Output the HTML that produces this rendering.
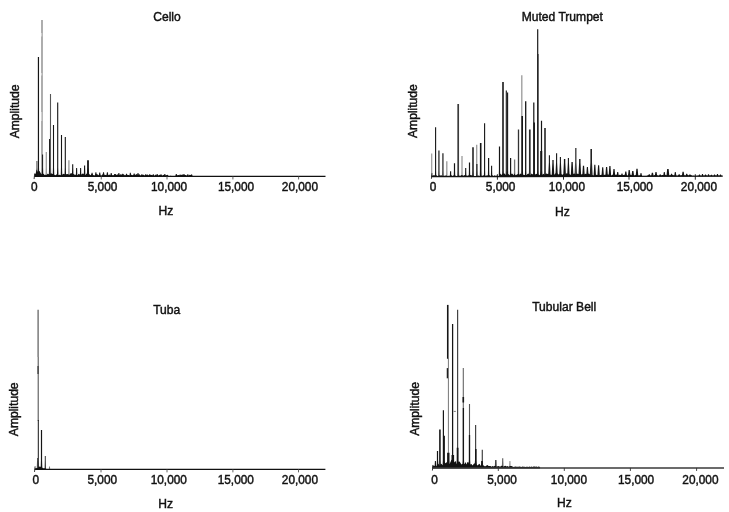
<!DOCTYPE html>
<html lang="en"><head><meta charset="utf-8"><title>Instrument spectra</title>
<style>
html,body{margin:0;padding:0;background:#fff;}
body{width:729px;height:512px;overflow:hidden;}
svg{display:block;}
text{font-family:"Liberation Sans",Arial,Helvetica,sans-serif;font-size:12.1px;fill:#111;stroke:#111;stroke-width:0.42px;}
</style></head>
<body>
<svg width="729" height="512" viewBox="0 0 729 512">
<rect width="729" height="512" fill="#fff"/>
<g id="cello">
<polygon points="36.05,176.45 36.30,167.45 36.30,161.10 37.50,161.10 37.50,167.45 37.75,176.45" fill="#666"/>
<polygon points="37.60,176.45 37.85,167.45 37.85,57.00 39.05,57.00 39.05,167.45 39.30,176.45" fill="#151515"/>
<polygon points="40.95,176.45 41.20,167.45 41.20,20.00 42.80,20.00 42.80,167.45 43.05,176.45" fill="#9a9a9a"/>
<polygon points="41.85,176.45 42.10,167.45 42.10,154.40 43.10,154.40 43.10,167.45 43.35,176.45" fill="#151515"/>
<polygon points="45.45,176.45 45.70,167.45 45.70,152.00 46.90,152.00 46.90,167.45 47.15,176.45" fill="#9a9a9a"/>
<polygon points="48.80,176.45 49.05,167.45 49.05,139.00 50.75,139.00 50.75,167.45 51.00,176.45" fill="#151515"/>
<polygon points="49.70,176.45 49.95,167.45 49.95,94.00 51.05,94.00 51.05,167.45 51.30,176.45" fill="#555"/>
<polygon points="52.70,176.45 52.95,167.45 52.95,125.00 54.05,125.00 54.05,167.45 54.30,176.45" fill="#151515"/>
<polygon points="56.90,176.45 57.15,167.45 57.15,102.50 58.25,102.50 58.25,167.45 58.50,176.45" fill="#151515"/>
<polygon points="60.70,176.45 60.95,167.45 60.95,135.00 62.05,135.00 62.05,167.45 62.30,176.45" fill="#151515"/>
<polygon points="64.50,176.45 64.75,167.45 64.75,137.00 65.85,137.00 65.85,167.45 66.10,176.45" fill="#151515"/>
<polygon points="68.00,176.45 68.25,167.45 68.25,160.20 69.55,160.20 69.55,167.45 69.80,176.45" fill="#9a9a9a"/>
<polygon points="71.90,176.45 72.15,167.45 72.15,164.20 73.25,164.20 73.25,167.45 73.50,176.45" fill="#151515"/>
<polygon points="75.85,176.45 76.10,168.00 77.10,168.00 77.35,176.45" fill="#151515"/>
<polygon points="79.85,176.45 80.10,168.00 81.10,168.00 81.35,176.45" fill="#151515"/>
<polygon points="83.80,176.45 84.05,167.45 84.05,165.50 85.15,165.50 85.15,167.45 85.40,176.45" fill="#151515"/>
<polygon points="86.85,176.45 87.10,167.45 87.10,160.20 88.90,160.20 88.90,167.45 89.15,176.45" fill="#151515"/>
<line x1="41.70" y1="33.00" x2="41.70" y2="36.50" stroke="#d8d8d8" stroke-width="1.0"/>
<line x1="41.70" y1="73.00" x2="41.70" y2="75.50" stroke="#d8d8d8" stroke-width="1.0"/>
<line x1="41.70" y1="112.00" x2="41.70" y2="121.00" stroke="#d8d8d8" stroke-width="1.0"/>
<polygon points="90.90,176.45 91.60,172.77 92.50,172.77 93.20,176.45" fill="#151515"/>
<polygon points="94.73,176.45 95.43,172.28 96.33,172.28 97.03,176.45" fill="#151515"/>
<polygon points="98.56,176.45 99.26,172.56 100.16,172.56 100.86,176.45" fill="#151515"/>
<polygon points="102.39,176.45 103.09,172.18 103.99,172.18 104.69,176.45" fill="#151515"/>
<polygon points="106.22,176.45 106.92,172.15 107.82,172.15 108.52,176.45" fill="#151515"/>
<polygon points="110.05,176.45 110.75,173.05 111.65,173.05 112.35,176.45" fill="#151515"/>
<polygon points="113.88,176.45 114.58,174.03 115.48,174.03 116.18,176.45" fill="#151515"/>
<polygon points="117.71,176.45 118.41,173.05 119.31,173.05 120.01,176.45" fill="#151515"/>
<polygon points="121.54,176.45 122.24,173.74 123.14,173.74 123.84,176.45" fill="#151515"/>
<polygon points="125.37,176.45 126.07,173.77 126.97,173.77 127.67,176.45" fill="#151515"/>
<polygon points="129.20,176.45 129.90,172.86 130.80,172.86 131.50,176.45" fill="#151515"/>
<polygon points="133.03,176.45 133.73,173.49 134.63,173.49 135.33,176.45" fill="#151515"/>
<polygon points="136.86,176.45 137.56,173.05 138.46,173.05 139.16,176.45" fill="#151515"/>
<polygon points="140.69,176.45 141.39,174.27 142.29,174.27 142.99,176.45" fill="#151515"/>
<polygon points="144.52,176.45 145.22,174.14 146.12,174.14 146.82,176.45" fill="#151515"/>
<polygon points="148.35,176.45 149.05,174.53 149.95,174.53 150.65,176.45" fill="#151515"/>
<polygon points="152.18,176.45 152.88,174.14 153.78,174.14 154.48,176.45" fill="#151515"/>
<polygon points="156.01,176.45 156.71,173.96 157.61,173.96 158.31,176.45" fill="#151515"/>
<polygon points="159.84,176.45 160.54,174.23 161.44,174.23 162.14,176.45" fill="#151515"/>
<polygon points="163.67,176.45 164.37,174.06 165.27,174.06 165.97,176.45" fill="#151515"/>
<polygon points="175.16,176.45 175.86,174.11 176.76,174.11 177.46,176.45" fill="#151515"/>
<polygon points="178.99,176.45 179.69,174.60 180.59,174.60 181.29,176.45" fill="#151515"/>
<polygon points="182.82,176.45 183.52,174.04 184.42,174.04 185.12,176.45" fill="#151515"/>
<polygon points="186.65,176.45 187.35,174.18 188.25,174.18 188.95,176.45" fill="#151515"/>
<polygon points="190.48,176.45 191.18,174.41 192.08,174.41 192.78,176.45" fill="#151515"/>
<path d="M34.60 176.45 L34.60 174.08 L35.60 173.84 L36.60 169.59 L37.60 171.65 L38.60 171.46 L39.60 171.11 L40.60 172.92 L41.60 174.28 L42.60 174.05 L43.60 173.73 L44.60 175.10 L45.60 174.69 L46.60 175.10 L47.60 173.70 L48.60 173.93 L49.60 175.20 L50.60 173.36 L51.60 173.40 L52.60 174.00 L53.60 174.08 L54.60 174.97 L55.60 175.25 L56.60 174.25 L57.60 175.16 L58.60 174.91 L59.60 174.81 L60.60 175.22 L61.60 174.38 L62.60 174.42 L63.60 173.64 L64.60 174.27 L65.60 174.03 L66.60 174.31 L67.60 173.99 L68.60 174.39 L69.60 174.74 L70.60 173.33 L71.60 173.34 L72.60 173.64 L73.60 173.90 L74.60 174.67 L75.60 174.83 L76.60 174.72 L77.60 175.14 L78.60 173.79 L79.60 174.50 L80.60 173.63 L81.60 174.53 L82.60 173.41 L83.60 173.63 L84.60 175.28 L85.60 174.87 L86.60 173.50 L87.60 174.36 L88.60 173.37 L89.60 174.51 L90.60 175.14 L91.60 174.05 L92.60 174.38 L93.60 175.15 L94.60 175.42 L95.60 175.05 L96.60 174.10 L97.60 174.41 L98.60 175.37 L99.60 175.18 L100.60 175.40 L101.60 175.46 L102.60 174.35 L103.60 175.28 L104.60 174.71 L105.60 174.88 L106.60 175.26 L107.60 174.45 L108.60 175.35 L109.60 174.58 L110.60 175.38 L111.60 174.92 L112.60 175.23 L113.60 175.15 L114.60 174.09 L115.60 174.34 L116.60 175.09 L117.60 174.22 L118.60 175.23 L119.60 174.96 L120.60 174.27 L121.60 174.59 L122.60 175.40 L123.60 174.07 L124.60 175.23 L125.60 175.16 L126.60 174.39 L127.60 175.06 L128.60 175.11 L129.60 175.44 L130.60 175.41 L131.60 174.68 L132.60 175.19 L133.60 174.65 L134.60 174.99 L135.60 174.87 L136.60 174.11 L137.60 174.82 L138.60 174.69 L139.60 174.25 L140.60 175.51 L141.60 175.55 L142.60 174.64 L143.60 174.75 L144.60 175.43 L145.60 175.50 L146.60 174.84 L147.60 174.60 L148.60 175.49 L149.60 174.59 L150.60 174.67 L151.60 175.01 L152.60 175.22 L153.60 175.61 L154.60 175.68 L155.60 174.57 L156.60 175.44 L157.60 174.88 L158.60 175.42 L159.60 174.74 L160.60 175.01 L161.60 175.38 L162.60 175.52 L163.60 174.87 L164.60 175.65 L165.60 175.46 L166.60 175.06 L167.60 174.71 L168.60 175.90 L169.60 176.05 L170.60 175.77 L171.60 176.09 L172.60 176.17 L173.60 176.06 L174.60 175.98 L175.60 176.15 L176.60 175.52 L177.60 175.29 L178.60 175.04 L179.60 175.57 L180.60 175.30 L181.60 174.66 L182.60 174.55 L183.60 174.94 L184.60 174.90 L185.60 175.03 L186.60 175.56 L187.60 175.69 L188.60 175.71 L189.60 174.64 L190.60 174.89 L191.60 174.57 L191.60 176.45 Z" fill="#111"/>
<line x1="34.40" y1="176.45" x2="325.50" y2="176.45" stroke="#111" stroke-width="1.3"/>
<line x1="34.70" y1="173.45" x2="34.10" y2="179.05" stroke="#222" stroke-width="0.9"/>
<line x1="101.25" y1="176.45" x2="101.25" y2="179.45" stroke="#555" stroke-width="0.9"/>
<line x1="167.00" y1="176.45" x2="167.00" y2="179.45" stroke="#555" stroke-width="0.9"/>
<line x1="232.90" y1="176.45" x2="232.90" y2="179.45" stroke="#555" stroke-width="0.9"/>
<line x1="298.60" y1="176.45" x2="298.60" y2="179.45" stroke="#555" stroke-width="0.9"/>
<text transform="translate(167.00 21.10) scale(1 1.07)" text-anchor="middle">Cello</text>
<text transform="translate(19.10 111.40) rotate(-90) scale(1 1.07)" text-anchor="middle">Amplitude</text>
<text transform="translate(165.80 214.90) scale(1 1.07)" text-anchor="middle">Hz</text>
<text transform="translate(34.20 191.40) scale(1 1.020)" text-anchor="middle" style="font-size:11.85px">0</text>
<text transform="translate(102.50 191.40) scale(1 1.020)" text-anchor="middle" style="font-size:11.85px">5,000</text>
<text transform="translate(169.10 191.40) scale(1 1.020)" text-anchor="middle" style="font-size:11.85px">10,000</text>
<text transform="translate(236.00 191.40) scale(1 1.020)" text-anchor="middle" style="font-size:11.85px">15,000</text>
<text transform="translate(299.90 191.40) scale(1 1.020)" text-anchor="middle" style="font-size:11.85px">20,000</text>
</g>
<g id="trumpet">
<polygon points="430.95,176.70 431.10,170.70 431.10,153.60 432.30,153.60 432.30,170.70 432.45,176.70" fill="#9a9a9a"/>
<polygon points="434.90,176.69 435.05,170.69 435.05,127.20 436.15,127.20 436.15,170.69 436.30,176.69" fill="#151515"/>
<polygon points="437.95,176.69 438.10,170.69 438.10,150.40 439.70,150.40 439.70,170.69 439.85,176.69" fill="#555"/>
<polygon points="441.95,176.68 442.10,170.68 442.10,153.20 443.70,153.20 443.70,170.68 443.85,176.68" fill="#555"/>
<polygon points="446.00,176.67 446.15,170.67 446.15,161.20 447.45,161.20 447.45,170.67 447.60,176.67" fill="#9a9a9a"/>
<polygon points="449.90,176.67 450.05,171.30 451.15,171.30 451.30,176.67" fill="#151515"/>
<polygon points="453.75,176.66 453.90,170.66 453.90,163.30 455.10,163.30 455.10,170.66 455.25,176.66" fill="#151515"/>
<polygon points="457.20,176.65 457.35,170.65 457.35,104.00 459.05,104.00 459.05,170.65 459.20,176.65" fill="#3a3a3a"/>
<polygon points="461.20,176.65 461.35,170.65 461.35,156.00 462.65,156.00 462.65,170.65 462.80,176.65" fill="#9a9a9a"/>
<polygon points="465.00,176.64 465.15,170.64 465.15,168.00 466.25,168.00 466.25,170.64 466.40,176.64" fill="#151515"/>
<polygon points="468.75,176.63 468.90,170.63 468.90,162.50 470.10,162.50 470.10,170.63 470.25,176.63" fill="#151515"/>
<polygon points="472.00,176.63 472.15,170.63 472.15,147.20 473.85,147.20 473.85,170.63 474.00,176.63" fill="#333"/>
<polygon points="475.90,176.62 476.05,170.62 476.05,144.80 477.35,144.80 477.35,170.62 477.50,176.62" fill="#9a9a9a"/>
<polygon points="476.20,176.62 476.35,170.62 476.35,164.00 477.45,164.00 477.45,170.62 477.60,176.62" fill="#151515"/>
<polygon points="479.75,176.62 479.90,170.62 479.90,142.90 481.50,142.90 481.50,170.62 481.65,176.62" fill="#151515"/>
<polygon points="483.90,176.61 484.05,170.61 484.05,123.20 485.15,123.20 485.15,170.61 485.30,176.61" fill="#151515"/>
<polygon points="487.85,176.60 488.00,170.60 488.00,158.00 489.20,158.00 489.20,170.60 489.35,176.60" fill="#151515"/>
<polygon points="490.90,176.60 491.05,170.60 491.05,165.70 492.15,165.70 492.15,170.60 492.30,176.60" fill="#151515"/>
<polygon points="498.75,176.58 498.90,170.58 498.90,146.40 500.10,146.40 500.10,170.58 500.25,176.58" fill="#151515"/>
<polygon points="501.95,176.58 502.10,170.58 502.10,82.00 503.90,82.00 503.90,170.58 504.05,176.58" fill="#333"/>
<polygon points="505.60,176.57 505.75,170.57 505.75,90.50 506.85,90.50 506.85,170.57 507.00,176.57" fill="#151515"/>
<polygon points="506.90,176.57 507.05,170.57 507.05,92.50 508.15,92.50 508.15,170.57 508.30,176.57" fill="#151515"/>
<polygon points="509.85,176.56 510.00,170.56 510.00,158.00 511.20,158.00 511.20,170.56 511.35,176.56" fill="#151515"/>
<polygon points="513.80,176.56 513.95,170.56 513.95,159.60 515.25,159.60 515.25,170.56 515.40,176.56" fill="#777"/>
<polygon points="517.70,176.55 517.85,170.55 517.85,129.60 519.15,129.60 519.15,170.55 519.30,176.55" fill="#333"/>
<polygon points="521.00,176.54 521.15,170.54 521.15,75.30 522.45,75.30 522.45,170.54 522.60,176.54" fill="#9a9a9a"/>
<polygon points="521.25,176.54 521.40,170.54 521.40,116.00 523.00,116.00 523.00,170.54 523.15,176.54" fill="#151515"/>
<polygon points="524.90,176.54 525.05,170.54 525.05,101.30 526.35,101.30 526.35,170.54 526.50,176.54" fill="#151515"/>
<polygon points="528.80,176.53 528.95,170.53 528.95,129.60 530.65,129.60 530.65,170.53 530.80,176.53" fill="#2a2a2a"/>
<polygon points="533.05,176.52 533.20,170.52 533.20,102.40 534.40,102.40 534.40,170.52 534.55,176.52" fill="#151515"/>
<polygon points="533.30,176.52 533.45,170.52 533.45,122.40 534.95,122.40 534.95,170.52 535.10,176.52" fill="#151515"/>
<polygon points="536.98,176.52 537.12,170.52 537.12,29.30 538.28,29.30 538.28,170.52 538.43,176.52" fill="#151515"/>
<polygon points="537.55,176.52 537.70,170.52 537.70,54.00 538.50,54.00 538.50,170.52 538.65,176.52" fill="#151515"/>
<polygon points="540.75,176.51 540.90,170.51 540.90,120.80 542.10,120.80 542.10,170.51 542.25,176.51" fill="#151515"/>
<polygon points="540.05,176.51 540.20,170.51 540.20,151.00 542.20,151.00 542.20,170.51 542.35,176.51" fill="#151515"/>
<polygon points="544.00,176.50 544.15,170.50 544.15,128.00 545.85,128.00 545.85,170.50 546.00,176.50" fill="#333"/>
<polygon points="548.15,176.50 548.85,162.50 548.85,155.30 549.95,155.30 549.95,162.50 550.65,176.50" fill="#151515"/>
<polygon points="551.65,176.49 552.35,162.49 552.35,160.00 553.65,160.00 553.65,162.49 554.35,176.49" fill="#151515"/>
<polygon points="555.35,176.49 556.05,162.49 556.05,153.20 557.15,153.20 557.15,162.49 557.85,176.49" fill="#151515"/>
<polygon points="559.15,176.48 559.85,162.48 559.85,156.90 560.95,156.90 560.95,162.48 561.65,176.48" fill="#151515"/>
<polygon points="563.20,176.47 563.90,162.47 563.90,159.00 565.30,159.00 565.30,162.47 566.00,176.47" fill="#151515"/>
<polygon points="567.15,176.46 567.85,162.46 567.85,158.00 568.95,158.00 568.95,162.46 569.65,176.46" fill="#151515"/>
<polygon points="570.75,176.46 571.45,162.46 571.45,162.10 572.75,162.10 572.75,162.46 573.45,176.46" fill="#151515"/>
<polygon points="574.40,176.45 575.10,162.45 575.10,148.00 576.50,148.00 576.50,162.45 577.20,176.45" fill="#444"/>
<polygon points="578.40,176.45 579.10,162.45 579.10,159.00 580.50,159.00 580.50,162.45 581.20,176.45" fill="#151515"/>
<polygon points="582.20,176.44 582.90,165.94 582.90,165.70 584.10,165.70 584.10,165.94 584.80,176.44" fill="#151515"/>
<polygon points="586.15,176.43 586.85,167.23 586.85,167.00 587.95,167.00 587.95,167.23 588.65,176.43" fill="#151515"/>
<polygon points="589.70,176.43 590.40,162.43 590.40,149.00 592.00,149.00 592.00,162.43 592.70,176.43" fill="#222"/>
<polygon points="593.55,176.42 594.25,164.92 594.25,164.70 595.35,164.70 595.35,164.92 596.05,176.42" fill="#151515"/>
<polygon points="597.35,176.41 598.05,165.41 598.05,165.20 599.15,165.20 599.15,165.41 599.85,176.41" fill="#151515"/>
<polygon points="601.45,176.41 602.15,167.51 602.15,167.30 603.25,167.30 603.25,167.51 603.95,176.41" fill="#151515"/>
<polygon points="605.30,176.40 606.00,167.20 606.00,167.00 607.20,167.00 607.20,167.20 607.90,176.40" fill="#151515"/>
<polygon points="608.60,176.39 609.30,166.19 609.30,166.00 610.50,166.00 610.50,166.19 611.20,176.39" fill="#151515"/>
<polygon points="612.70,176.39 613.40,169.19 613.40,169.00 614.60,169.00 614.60,169.19 615.30,176.39" fill="#151515"/>
<polygon points="616.50,176.38 617.20,172.08 617.20,171.90 618.20,171.90 618.20,172.08 618.90,176.38" fill="#151515"/>
<polygon points="620.80,176.37 621.50,173.77 621.50,173.60 622.50,173.60 622.50,173.77 623.20,176.37" fill="#151515"/>
<polygon points="624.55,176.37 625.25,171.57 625.25,171.40 626.35,171.40 626.35,171.57 627.05,176.37" fill="#151515"/>
<polygon points="627.90,176.36 628.60,170.16 628.60,170.00 629.80,170.00 629.80,170.16 630.50,176.36" fill="#151515"/>
<polygon points="631.45,176.35 632.15,171.05 632.15,170.90 633.45,170.90 633.45,171.05 634.15,176.35" fill="#151515"/>
<polygon points="635.65,176.35 636.35,168.95 636.35,168.80 637.65,168.80 637.65,168.95 638.35,176.35" fill="#151515"/>
<polygon points="639.85,176.34 640.55,173.24 640.55,173.10 641.45,173.10 641.45,173.24 642.15,176.34" fill="#151515"/>
<polygon points="648.10,176.33 648.80,174.33 648.80,174.20 649.80,174.20 649.80,174.33 650.50,176.33" fill="#151515"/>
<polygon points="651.10,176.32 651.80,172.82 651.80,172.70 653.00,172.70 653.00,172.82 653.70,176.32" fill="#151515"/>
<polygon points="654.70,176.31 655.40,172.21 655.40,172.10 656.60,172.10 656.60,172.21 657.30,176.31" fill="#151515"/>
<polygon points="659.05,176.31 659.75,174.41 659.75,174.30 660.65,174.30 660.65,174.41 661.35,176.31" fill="#151515"/>
<polygon points="663.10,176.30 663.80,172.20 663.80,172.10 664.80,172.10 664.80,172.20 665.50,176.30" fill="#151515"/>
<polygon points="666.45,176.29 667.15,169.09 667.15,169.00 668.65,169.00 668.65,169.09 669.35,176.29" fill="#151515"/>
<polygon points="670.30,176.29 671.00,173.89 671.00,173.80 672.00,173.80 672.00,173.89 672.70,176.29" fill="#151515"/>
<polygon points="674.15,176.28 674.85,171.98 674.85,171.90 675.75,171.90 675.75,171.98 676.45,176.28" fill="#151515"/>
<polygon points="678.00,176.27 678.70,174.27 678.70,174.20 679.70,174.20 679.70,174.27 680.40,176.27" fill="#151515"/>
<polygon points="681.80,176.27 682.50,171.77 682.50,171.70 683.70,171.70 683.70,171.77 684.40,176.27" fill="#151515"/>
<polygon points="685.50,176.26 686.20,173.76 686.20,173.70 687.20,173.70 687.20,173.76 687.90,176.26" fill="#151515"/>
<polygon points="688.80,176.26 689.50,174.46 689.50,174.40 690.50,174.40 690.50,174.46 691.20,176.26" fill="#151515"/>
<polygon points="698.45,176.20 699.05,174.54 699.95,174.54 700.55,176.20" fill="#151515"/>
<polygon points="701.45,176.20 702.05,174.03 702.95,174.03 703.55,176.20" fill="#151515"/>
<polygon points="704.45,176.20 705.05,174.61 705.95,174.61 706.55,176.20" fill="#151515"/>
<polygon points="707.45,176.20 708.05,174.21 708.95,174.21 709.55,176.20" fill="#151515"/>
<polygon points="710.45,176.20 711.05,174.64 711.95,174.64 712.55,176.20" fill="#151515"/>
<polygon points="713.45,176.20 714.05,174.53 714.95,174.53 715.55,176.20" fill="#151515"/>
<polygon points="716.45,176.20 717.05,174.00 717.95,174.00 718.55,176.20" fill="#151515"/>
<polygon points="719.45,176.20 720.05,174.55 720.95,174.55 721.55,176.20" fill="#151515"/>
<path d="M431.50 176.70 L431.50 175.51 L432.50 175.39 L433.50 175.34 L434.50 175.19 L435.50 175.39 L436.50 175.21 L437.50 176.08 L438.50 175.65 L439.50 175.18 L440.50 175.47 L441.50 175.22 L442.50 175.99 L443.50 175.64 L444.50 175.85 L445.50 175.56 L446.50 175.53 L447.50 176.07 L448.50 175.87 L449.50 175.81 L450.50 175.19 L451.50 175.33 L452.50 175.92 L453.50 175.30 L454.50 175.94 L455.50 175.47 L456.50 175.95 L457.50 176.07 L458.50 175.22 L459.50 175.86 L460.50 175.86 L461.50 175.11 L462.50 175.21 L463.50 175.78 L464.50 175.12 L465.50 175.53 L466.50 175.39 L467.50 175.85 L468.50 175.13 L469.50 175.38 L470.50 175.11 L471.50 175.17 L472.50 175.75 L473.50 175.69 L474.50 175.88 L475.50 175.90 L476.50 175.97 L477.50 175.74 L478.50 175.45 L479.50 176.03 L480.50 175.37 L481.50 175.70 L482.50 175.73 L483.50 175.23 L484.50 175.56 L485.50 175.71 L486.50 175.55 L487.50 175.33 L488.50 175.96 L489.50 175.06 L490.50 175.99 L491.50 175.28 L492.50 175.19 L493.50 175.99 L494.50 175.24 L495.50 175.65 L496.50 175.44 L497.50 175.99 L498.50 175.95 L499.50 175.82 L500.50 173.55 L501.50 175.03 L502.50 173.93 L503.50 173.59 L504.50 173.57 L505.50 174.73 L506.50 174.71 L507.50 174.38 L508.50 173.89 L509.50 175.19 L510.50 173.93 L511.50 173.84 L512.50 173.71 L513.50 175.32 L514.50 173.54 L515.50 175.21 L516.50 174.72 L517.50 174.19 L518.50 173.59 L519.50 174.72 L520.50 173.57 L521.50 174.31 L522.50 174.76 L523.50 174.75 L524.50 175.02 L525.50 175.22 L526.50 175.08 L527.50 174.02 L528.50 173.42 L529.50 175.05 L530.50 175.27 L531.50 173.43 L532.50 174.32 L533.50 174.56 L534.50 174.89 L535.50 174.19 L536.50 173.74 L537.50 174.46 L538.50 174.52 L539.50 175.24 L540.50 173.56 L541.50 175.28 L542.50 174.38 L543.50 173.70 L544.50 175.08 L545.50 173.91 L546.50 173.48 L547.50 174.10 L548.50 173.79 L549.50 175.12 L550.50 174.48 L551.50 175.03 L552.50 173.67 L553.50 174.75 L554.50 174.44 L555.50 173.37 L556.50 173.65 L557.50 173.41 L558.50 174.43 L559.50 174.36 L560.50 173.89 L561.50 174.37 L562.50 174.74 L563.50 174.52 L564.50 175.02 L565.50 174.56 L566.50 173.37 L567.50 173.42 L568.50 174.07 L569.50 174.32 L570.50 174.63 L571.50 175.12 L572.50 174.76 L573.50 173.76 L574.50 173.59 L575.50 174.58 L576.50 173.75 L577.50 173.77 L578.50 173.92 L579.50 173.98 L580.50 173.79 L581.50 174.56 L582.50 173.90 L583.50 174.72 L584.50 174.32 L585.50 173.76 L586.50 173.92 L587.50 174.69 L588.50 173.42 L589.50 173.99 L590.50 175.01 L591.50 175.69 L592.50 175.05 L593.50 175.40 L594.50 174.89 L595.50 175.14 L596.50 174.72 L597.50 174.92 L598.50 174.74 L599.50 175.27 L600.50 174.92 L601.50 174.80 L602.50 174.69 L603.50 175.26 L604.50 174.67 L605.50 174.64 L606.50 174.85 L607.50 174.51 L608.50 174.53 L609.50 175.05 L610.50 175.04 L611.50 175.47 L612.50 174.67 L613.50 174.54 L614.50 175.09 L615.50 174.83 L616.50 174.80 L617.50 174.78 L618.50 175.45 L619.50 174.72 L620.50 174.96 L621.50 174.85 L622.50 175.15 L623.50 174.90 L624.50 174.72 L625.50 174.88 L626.50 174.78 L627.50 175.61 L628.50 175.45 L629.50 175.11 L630.50 174.86 L631.50 175.37 L632.50 174.81 L633.50 174.88 L634.50 175.58 L635.50 175.06 L636.50 175.36 L637.50 175.56 L638.50 175.46 L639.50 175.24 L640.50 175.64 L641.50 175.63 L642.50 176.15 L643.50 176.02 L644.50 176.04 L645.50 175.97 L646.50 175.97 L647.50 175.57 L648.50 174.97 L649.50 175.78 L650.50 175.42 L651.50 175.53 L652.50 175.41 L653.50 175.67 L654.50 175.03 L655.50 175.44 L656.50 175.74 L657.50 175.22 L658.50 175.68 L659.50 175.28 L660.50 175.46 L661.50 175.24 L662.50 174.90 L663.50 175.02 L664.50 175.38 L665.50 175.03 L666.50 175.18 L667.50 175.42 L668.50 175.62 L669.50 175.21 L670.50 175.24 L671.50 174.89 L672.50 174.87 L673.50 175.20 L674.50 175.43 L675.50 174.94 L676.50 175.74 L677.50 175.64 L678.50 175.23 L679.50 175.18 L680.50 175.61 L681.50 175.16 L682.50 174.93 L683.50 175.39 L684.50 175.34 L685.50 175.52 L686.50 175.46 L687.50 174.84 L688.50 175.38 L689.50 174.85 L690.50 174.89 L691.50 175.18 L692.50 175.99 L693.50 175.78 L694.50 175.92 L695.50 175.94 L696.50 175.97 L697.50 175.77 L698.50 175.75 L699.50 175.84 L700.50 175.75 L701.50 175.91 L702.50 175.68 L703.50 175.76 L704.50 175.83 L705.50 175.61 L706.50 175.59 L707.50 175.95 L708.50 175.71 L709.50 175.83 L710.50 175.53 L711.50 175.60 L712.50 175.84 L713.50 175.83 L714.50 175.87 L715.50 175.50 L716.50 175.81 L717.50 175.66 L718.50 175.72 L719.50 175.64 L720.50 175.66 L721.50 175.60 L721.50 176.20 Z" fill="#111"/>
<line x1="431.50" y1="176.70" x2="722.80" y2="176.20" stroke="#111" stroke-width="1.2"/>
<line x1="432.00" y1="173.20" x2="431.40" y2="178.80" stroke="#222" stroke-width="0.9"/>
<line x1="497.40" y1="174.20" x2="497.40" y2="179.70" stroke="#111" stroke-width="0.9"/>
<line x1="563.50" y1="174.20" x2="563.50" y2="179.70" stroke="#111" stroke-width="0.9"/>
<line x1="629.00" y1="174.20" x2="629.00" y2="179.70" stroke="#111" stroke-width="0.9"/>
<line x1="695.30" y1="174.20" x2="695.30" y2="179.70" stroke="#111" stroke-width="0.9"/>
<text transform="translate(562.30 20.60) scale(1 1.07)" text-anchor="middle">Muted Trumpet</text>
<text transform="translate(417.30 111.10) rotate(-90) scale(1 1.07)" text-anchor="middle">Amplitude</text>
<text transform="translate(562.30 216.00) scale(1 1.07)" text-anchor="middle">Hz</text>
<text transform="translate(433.00 190.90) scale(1 1.020)" text-anchor="middle" style="font-size:11.85px">0</text>
<text transform="translate(500.60 190.90) scale(1 1.020)" text-anchor="middle" style="font-size:11.85px">5,000</text>
<text transform="translate(566.90 190.90) scale(1 1.020)" text-anchor="middle" style="font-size:11.85px">10,000</text>
<text transform="translate(634.80 190.90) scale(1 1.020)" text-anchor="middle" style="font-size:11.85px">15,000</text>
<text transform="translate(698.90 190.90) scale(1 1.020)" text-anchor="middle" style="font-size:11.85px">20,000</text>
</g>
<g id="tuba">
<line x1="38.10" y1="309.80" x2="38.10" y2="357.00" stroke="#666" stroke-width="1.3"/>
<line x1="38.20" y1="357.00" x2="38.20" y2="421.00" stroke="#444" stroke-width="1.0"/>
<line x1="38.00" y1="366.00" x2="38.00" y2="374.00" stroke="#222" stroke-width="1.0"/>
<polygon points="37.65,469.35 37.80,460.35 37.80,420.00 38.80,420.00 38.80,460.35 38.95,469.35" fill="#151515"/>
<polygon points="36.75,469.35 37.05,460.35 37.05,458.00 37.95,458.00 37.95,460.35 38.25,469.35" fill="#444"/>
<polygon points="40.65,469.35 40.90,460.35 40.90,430.00 42.10,430.00 42.10,460.35 42.35,469.35" fill="#151515"/>
<polygon points="44.60,469.35 44.80,460.35 44.80,456.00 45.80,456.00 45.80,460.35 46.00,469.35" fill="#333"/>
<polygon points="48.85,469.35 49.05,466.40 49.95,466.40 50.15,469.35" fill="#777"/>
<path d="M35.00 469.35 L35.00 468.18 L36.00 468.19 L37.00 468.07 L38.00 468.01 L39.00 466.55 L40.00 466.74 L41.00 466.87 L42.00 467.58 L43.00 468.26 L44.00 468.26 L45.00 468.29 L46.00 468.67 L47.00 469.35 L47.00 469.35 Z" fill="#111"/>
<line x1="34.60" y1="469.35" x2="325.40" y2="469.35" stroke="#111" stroke-width="1.3"/>
<line x1="35.10" y1="466.35" x2="34.50" y2="471.95" stroke="#222" stroke-width="0.9"/>
<line x1="101.00" y1="469.35" x2="101.00" y2="472.35" stroke="#555" stroke-width="0.9"/>
<line x1="167.00" y1="469.35" x2="167.00" y2="472.35" stroke="#555" stroke-width="0.9"/>
<line x1="232.90" y1="469.35" x2="232.90" y2="472.35" stroke="#555" stroke-width="0.9"/>
<line x1="298.50" y1="469.35" x2="298.50" y2="472.35" stroke="#555" stroke-width="0.9"/>
<text transform="translate(166.70 314.20) scale(1 1.07)" text-anchor="middle">Tuba</text>
<text transform="translate(18.30 409.30) rotate(-90) scale(1 1.07)" text-anchor="middle">Amplitude</text>
<text transform="translate(165.60 507.60) scale(1 1.07)" text-anchor="middle">Hz</text>
<text transform="translate(35.80 483.80) scale(1 1.020)" text-anchor="middle" style="font-size:11.85px">0</text>
<text transform="translate(102.30 483.80) scale(1 1.020)" text-anchor="middle" style="font-size:11.85px">5,000</text>
<text transform="translate(168.80 483.80) scale(1 1.020)" text-anchor="middle" style="font-size:11.85px">10,000</text>
<text transform="translate(235.80 483.80) scale(1 1.020)" text-anchor="middle" style="font-size:11.85px">15,000</text>
<text transform="translate(299.90 483.80) scale(1 1.020)" text-anchor="middle" style="font-size:11.85px">20,000</text>
</g>
<g id="bell">
<polygon points="434.60,467.95 434.90,461.00 435.90,461.00 436.20,467.95" fill="#151515"/>
<polygon points="436.60,467.95 436.90,459.95 436.90,451.00 438.10,451.00 438.10,459.95 438.40,467.95" fill="#151515"/>
<polygon points="438.70,467.95 439.00,459.95 439.00,429.40 440.80,429.40 440.80,459.95 441.10,467.95" fill="#333"/>
<polygon points="442.50,467.95 442.80,459.95 442.80,410.20 444.00,410.20 444.00,459.95 444.30,467.95" fill="#151515"/>
<polygon points="443.20,467.95 443.50,459.95 443.50,435.80 444.90,435.80 444.90,459.95 445.20,467.95" fill="#151515"/>
<line x1="447.75" y1="304.90" x2="447.75" y2="358.80" stroke="#151515" stroke-width="1.6"/>
<line x1="447.50" y1="368.10" x2="447.50" y2="378.30" stroke="#151515" stroke-width="1.5"/>
<polygon points="447.60,467.95 447.90,459.95 447.90,358.00 448.90,358.00 448.90,459.95 449.20,467.95" fill="#777"/>
<polygon points="451.68,467.95 451.98,459.95 451.98,324.10 453.23,324.10 453.23,459.95 453.53,467.95" fill="#151515"/>
<polygon points="456.70,467.95 457.00,459.95 457.00,309.70 458.20,309.70 458.20,459.95 458.50,467.95" fill="#444"/>
<polygon points="456.40,467.95 456.70,459.95 456.70,447.80 458.50,447.80 458.50,459.95 458.80,467.95" fill="#151515"/>
<polygon points="462.45,467.95 462.75,459.95 462.75,367.90 463.85,367.90 463.85,459.95 464.15,467.95" fill="#666"/>
<line x1="463.30" y1="397.00" x2="463.30" y2="402.50" stroke="#151515" stroke-width="1.6"/>
<polygon points="462.45,467.95 462.75,459.95 462.75,408.00 464.05,408.00 464.05,459.95 464.35,467.95" fill="#151515"/>
<polygon points="468.65,467.95 468.95,459.95 468.95,404.10 470.05,404.10 470.05,459.95 470.35,467.95" fill="#555"/>
<polygon points="468.55,467.95 468.85,459.95 468.85,435.00 470.15,435.00 470.15,459.95 470.45,467.95" fill="#151515"/>
<polygon points="474.70,467.95 475.00,459.95 475.00,425.10 476.20,425.10 476.20,459.95 476.50,467.95" fill="#444"/>
<polygon points="474.70,467.95 475.00,459.95 475.00,449.00 476.60,449.00 476.60,459.95 476.90,467.95" fill="#151515"/>
<polygon points="481.40,467.95 481.70,459.95 481.70,449.80 482.90,449.80 482.90,459.95 483.20,467.95" fill="#444"/>
<polygon points="480.90,467.95 481.20,461.00 482.80,461.00 483.10,467.95" fill="#151515"/>
<polygon points="494.80,467.95 495.10,459.95 495.10,459.90 496.50,459.90 496.50,459.95 496.80,467.95" fill="#444"/>
<polygon points="501.80,467.95 502.10,459.95 502.10,458.30 503.30,458.30 503.30,459.95 503.60,467.95" fill="#666"/>
<polygon points="509.05,467.95 509.35,461.00 510.45,461.00 510.75,467.95" fill="#9a9a9a"/>
<polygon points="446.80,467.95 447.10,459.95 447.10,452.70 449.50,452.70 449.50,459.95 449.80,467.95" fill="#151515"/>
<polygon points="451.20,467.95 451.50,459.95 451.50,455.00 454.10,455.00 454.10,459.95 454.40,467.95" fill="#151515"/>
<line x1="432.5" y1="467.7" x2="540" y2="467.7" stroke="#111" stroke-width="1.6"/>
<line x1="453.7" y1="411.4" x2="455.8" y2="411.4" stroke="#555" stroke-width="0.8"/>
<path d="M432.50 467.45 L432.50 465.46 L433.50 465.63 L434.50 466.07 L435.50 464.70 L436.50 466.25 L437.50 465.03 L438.50 463.85 L439.50 465.67 L440.50 464.19 L441.50 463.76 L442.50 465.37 L443.50 464.07 L444.50 462.67 L445.50 463.37 L446.50 462.03 L447.50 464.19 L448.50 463.67 L449.50 464.09 L450.50 461.99 L451.50 459.61 L452.50 461.26 L453.50 460.45 L454.50 462.54 L455.50 460.87 L456.50 464.09 L457.50 463.27 L458.50 461.61 L459.50 461.51 L460.50 462.98 L461.50 464.51 L462.50 463.83 L463.50 464.15 L464.50 463.95 L465.50 462.00 L466.50 464.44 L467.50 462.01 L468.50 462.19 L469.50 465.19 L470.50 464.17 L471.50 463.90 L472.50 465.49 L473.50 464.33 L474.50 463.02 L475.50 465.43 L476.50 464.18 L477.50 465.55 L478.50 464.47 L479.50 463.82 L480.50 465.58 L481.50 466.10 L482.50 466.00 L483.50 465.15 L484.50 466.27 L485.50 466.21 L486.50 465.58 L487.50 465.01 L488.50 465.92 L489.50 466.05 L490.50 466.06 L491.50 466.67 L492.50 466.12 L493.50 466.58 L494.50 466.09 L495.50 465.70 L496.50 466.71 L497.50 466.15 L498.50 466.09 L499.50 466.61 L500.50 466.47 L501.50 465.66 L502.50 465.65 L503.50 466.64 L504.50 465.98 L505.50 465.71 L506.50 466.51 L507.50 466.09 L508.50 466.73 L509.50 466.36 L510.50 466.02 L511.50 466.11 L512.50 466.52 L513.50 466.99 L514.50 466.81 L515.50 466.46 L516.50 466.65 L517.50 466.74 L518.50 466.77 L519.50 466.38 L520.50 466.66 L521.50 467.03 L522.50 466.51 L523.50 466.82 L524.50 466.75 L525.50 466.90 L526.50 466.75 L527.50 466.83 L528.50 466.99 L529.50 466.62 L530.50 466.98 L531.50 466.52 L532.50 467.03 L533.50 466.52 L534.50 466.50 L535.50 466.71 L536.50 466.57 L537.50 466.88 L538.50 466.55 L539.50 466.76 L540.50 467.45 L541.50 467.45 L542.50 467.45 L543.50 467.45 L544.50 467.45 L544.50 467.45 Z" fill="#111"/>
<line x1="432.50" y1="467.95" x2="724.00" y2="467.95" stroke="#3a3a3a" stroke-width="1.4"/>
<line x1="433.00" y1="464.95" x2="432.40" y2="470.55" stroke="#222" stroke-width="0.9"/>
<line x1="498.30" y1="467.95" x2="498.30" y2="470.95" stroke="#333" stroke-width="0.9"/>
<line x1="564.30" y1="467.95" x2="564.30" y2="470.95" stroke="#333" stroke-width="0.9"/>
<line x1="630.40" y1="467.95" x2="630.40" y2="470.95" stroke="#333" stroke-width="0.9"/>
<line x1="696.60" y1="467.95" x2="696.60" y2="470.95" stroke="#333" stroke-width="0.9"/>
<text transform="translate(564.20 310.60) scale(1 1.07)" text-anchor="middle">Tubular Bell</text>
<text transform="translate(418.80 409.00) rotate(-90) scale(1 1.07)" text-anchor="middle">Amplitude</text>
<text transform="translate(564.30 506.50) scale(1 1.07)" text-anchor="middle">Hz</text>
<text transform="translate(434.60 483.80) scale(1 1.020)" text-anchor="middle" style="font-size:11.85px">0</text>
<text transform="translate(502.00 483.80) scale(1 1.020)" text-anchor="middle" style="font-size:11.85px">5,000</text>
<text transform="translate(568.90 483.80) scale(1 1.020)" text-anchor="middle" style="font-size:11.85px">10,000</text>
<text transform="translate(636.10 483.80) scale(1 1.020)" text-anchor="middle" style="font-size:11.85px">15,000</text>
<text transform="translate(700.40 483.80) scale(1 1.020)" text-anchor="middle" style="font-size:11.85px">20,000</text>
</g>
</svg>
</body></html>
